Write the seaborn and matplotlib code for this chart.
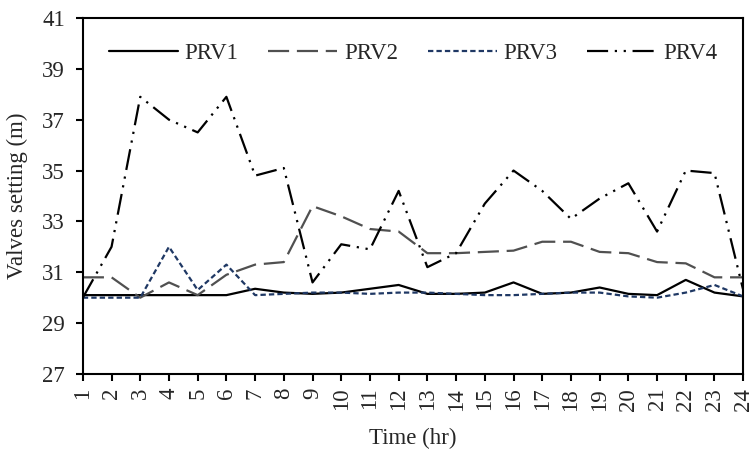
import numpy as np
import pandas as pd
import matplotlib
matplotlib.use("Agg")
import matplotlib.pyplot as plt
import seaborn as sns

hours = list(range(1, 25))
prv1 = [30.1, 30.1, 30.1, 30.1, 30.1, 30.1, 30.35, 30.2, 30.15, 30.2, 30.35, 30.5,
        30.15, 30.15, 30.2, 30.6, 30.15, 30.2, 30.4, 30.15, 30.1, 30.7, 30.2, 30.05]
prv2 = [30.8, 30.8, 30.0, 30.6, 30.1, 30.9, 31.3, 31.4, 33.6, 33.2, 32.7, 32.6,
        31.75, 31.75, 31.8, 31.85, 32.2, 32.2, 31.8, 31.75, 31.4, 31.35, 30.8, 30.8]
prv3 = [30.0, 30.0, 30.0, 32.0, 30.3, 31.3, 30.1, 30.15, 30.2, 30.2, 30.15, 30.2,
        30.2, 30.15, 30.1, 30.1, 30.15, 30.2, 30.2, 30.05, 30.0, 30.2, 30.5, 30.05]
prv4 = [30.0, 32.0, 37.9, 37.0, 36.5, 37.9, 34.8, 35.1, 30.6, 32.1, 31.9, 34.2,
        31.2, 31.75, 33.7, 35.0, 34.2, 33.1, 33.9, 34.5, 32.6, 35.0, 34.9, 30.3]

series = {"PRV1": prv1, "PRV2": prv2, "PRV3": prv3, "PRV4": prv4}
colors = {"PRV1": "black", "PRV2": "#505050", "PRV3": "#1f3864", "PRV4": "black"}
dashes = {"PRV1": "", "PRV2": (9.5, 3.5), "PRV3": (2.4, 1.4),
          "PRV4": (9.5, 3, 1, 3, 1, 3)}

df = pd.DataFrame(series, index=hours).reset_index(names="hour")
long_df = df.melt(id_vars="hour", var_name="valve", value_name="setting")

sns.set_style("ticks")
plt.rcParams["font.family"] = ["Liberation Serif", "DejaVu Serif"]
fs = 16.5

fig = plt.figure(figsize=(7.53, 4.5), dpi=100)
ax = fig.add_axes([0.110, 0.169, 0.877, 0.791])

sns.lineplot(data=long_df, x="hour", y="setting", hue="valve", style="valve",
             palette=colors, dashes=dashes, linewidth=1.6, ax=ax)

ax.set_xlim(1, 24)
ax.set_ylim(27, 41)
ax.set_xticks(hours)
ax.set_xticklabels([str(h) for h in hours], rotation=90, fontsize=fs)
ax.set_yticks(np.arange(27, 42, 2))
ax.tick_params(axis="y", labelsize=fs, length=5, width=1.5, color="black", pad=8)
ax.tick_params(axis="x", length=5, width=1.5, color="black", pad=5)
ax.set_xlabel("Time (hr)", fontsize=fs, labelpad=12)
ax.set_ylabel("Valves setting (m)", fontsize=fs, labelpad=10)
for sp in ax.spines.values():
    sp.set_visible(True)
    sp.set_color("black")
    sp.set_linewidth(1.5)

ax.legend(loc="upper center", bbox_to_anchor=(0.50, 1.0), ncol=4, frameon=False,
          fontsize=fs, handlelength=3.0, handletextpad=0.3, columnspacing=1.3,
          borderaxespad=0.7)

fig.savefig("out.png", dpi=100)
